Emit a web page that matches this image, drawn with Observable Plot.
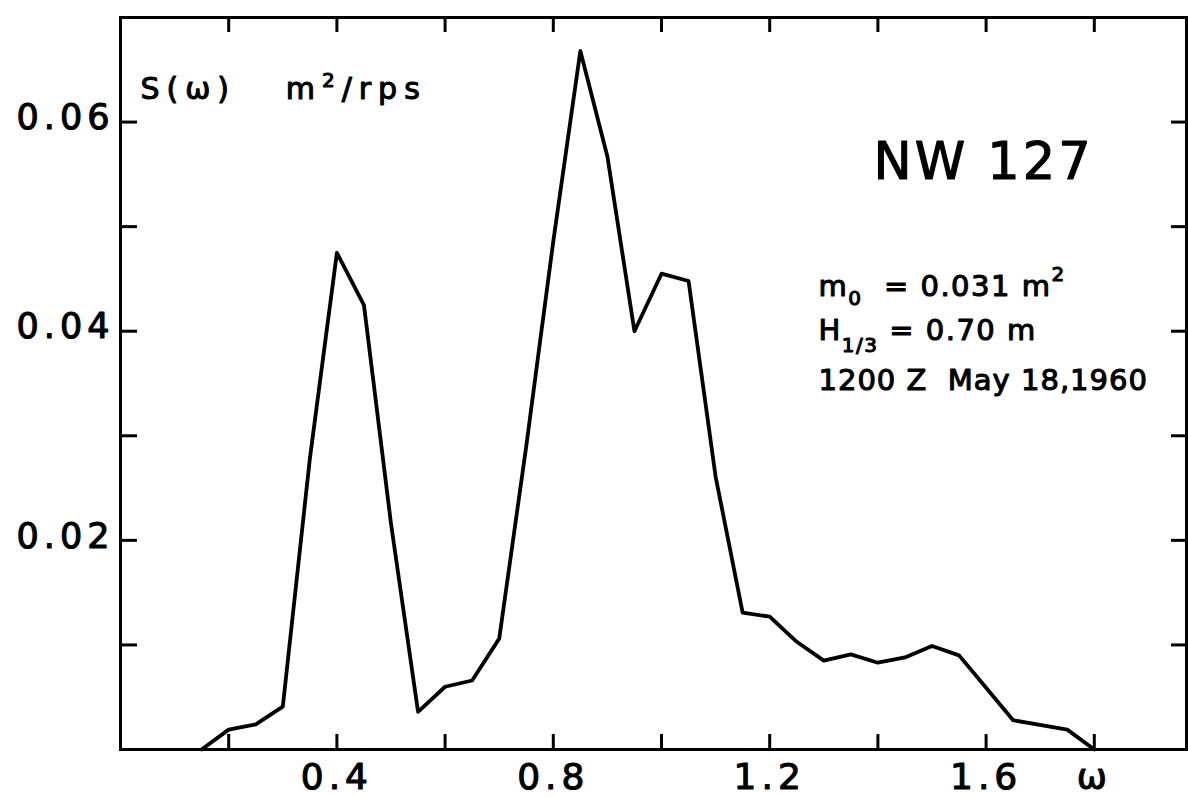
<!DOCTYPE html>
<html>
<head>
<meta charset="utf-8">
<script src="https://cdn.jsdelivr.net/npm/d3@7"></script>
<script src="https://cdn.jsdelivr.net/npm/@observablehq/plot@0.6"></script>
<style>
  html, body { margin: 0; padding: 0; background: #fff; }
  #chart svg { display: block; }
  #chart svg text { stroke: #000; stroke-width: 1.1px; stroke-linejoin: round; }
</style>
</head>
<body>
<div id="chart"></div>
<script>
// ---- data ----
const omega = [0.15, 0.2, 0.25, 0.3, 0.35, 0.4, 0.45, 0.5, 0.55, 0.6, 0.65, 0.7, 0.75, 0.8, 0.85, 0.9, 0.95, 1.0, 1.05, 1.1, 1.15, 1.2, 1.25, 1.3, 1.35, 1.4, 1.45, 1.5, 1.55, 1.6, 1.65, 1.75, 1.8];
const spectrum = [0, 0.0019, 0.0024, 0.0041, 0.0278, 0.0475, 0.0425, 0.0216, 0.0036, 0.0060, 0.0066, 0.0106, 0.029, 0.0486, 0.0668, 0.0567, 0.0400, 0.0455, 0.0448, 0.0261, 0.0131, 0.0127, 0.0103, 0.0085, 0.0091, 0.0083, 0.0088, 0.0099, 0.0090, 0.0059, 0.0028, 0.0019, 0];

const xTickValues = [0.2, 0.4, 0.6, 0.8, 1.0, 1.2, 1.4, 1.6, 1.8];
const xLabelValues = [0.4, 0.8, 1.2, 1.6, 1.8];
const xLabelText = ["0.4", "0.8", "1.2", "1.6", "ω"];
const yTickValues = [0.01, 0.02, 0.03, 0.04, 0.05, 0.06];
const yLabelValues = [0.02, 0.04, 0.06];
const yLabelText = ["0.02", "0.04", "0.06"];

const titleText = "NW 127";
const unitParts = [["S(ω)   m", ""], ["2", "sup"], ["/rps", ""]];
const m0Parts = [["m", ""], ["0", "sub"], ["  = 0.031 m", ""], ["2", "sup"]];
const hParts = [["H", ""], ["1/3", "sub"], [" = 0.70 m", ""]];
const dateText = "1200 Z  May 18,1960";

// ---- layout ----
const W = 1188, H = 797;
const mL = 120, mR = 2, mT = 17, mB = 48;
const iw = W - mL - mR, ih = H - mT - mB;
const pxPerUnit = 541;

const rows = omega.map((w, i) => ({w, s: spectrum[i]}));
const joinParts = p => p.map(d => d[0]).join("");

const plot = Plot.plot({
  width: W, height: H,
  marginLeft: mL, marginRight: mR, marginTop: mT, marginBottom: mB,
  x: {domain: [0, iw / pxPerUnit]},
  y: {domain: [0, 0.07]},
  style: {fontFamily: "'DejaVu Sans', sans-serif", color: "#000", background: "#fff"},
  marks: [
    Plot.tickX(xTickValues, {x: d => d, insetTop: ih - 15, stroke: "#000", strokeWidth: 3}),
    Plot.tickX(xTickValues, {x: d => d, insetBottom: ih - 15, stroke: "#000", strokeWidth: 3}),
    Plot.tickY(yTickValues, {y: d => d, insetRight: iw - 17, stroke: "#000", strokeWidth: 3}),
    Plot.tickY(yTickValues, {y: d => d, insetLeft: iw - 15, stroke: "#000", strokeWidth: 3}),
    Plot.frame({stroke: "#000", strokeWidth: 3}),
    Plot.line(rows, {x: "w", y: "s", stroke: "#000", strokeWidth: 3.8}),
    Plot.axisX(xLabelValues, {tickSize: 0, tickPadding: 14, fontSize: 36, label: null,
      tickFormat: d => xLabelText[xLabelValues.indexOf(d)]}),
    Plot.axisY(yLabelValues, {tickSize: 0, tickPadding: 6, fontSize: 35, label: null, dy: -4,
      tickFormat: d => yLabelText[yLabelValues.indexOf(d)]}),
    Plot.text([joinParts(unitParts)], {frameAnchor: "top-left", dx: 20, dy: 60, lineAnchor: "top", textAnchor: "start", fontSize: 30}),
    Plot.text([titleText], {frameAnchor: "top-left", dx: 753, dy: 125, lineAnchor: "top", textAnchor: "start", fontSize: 51}),
    Plot.text([joinParts(m0Parts)], {frameAnchor: "top-left", dx: 698, dy: 258, lineAnchor: "top", textAnchor: "start", fontSize: 29}),
    Plot.text([joinParts(hParts)], {frameAnchor: "top-left", dx: 698, dy: 302, lineAnchor: "top", textAnchor: "start", fontSize: 29}),
    Plot.text([dateText], {frameAnchor: "top-left", dx: 698, dy: 352, lineAnchor: "top", textAnchor: "start", fontSize: 29})
  ]
});

document.getElementById("chart").appendChild(plot);

// ---- text styling: letter spacing and sub/superscripts ----
function findText(str) {
  return Array.from(plot.querySelectorAll("text")).find(t => t.textContent === str);
}
function richify(parts, opts) {
  const el = findText(joinParts(parts));
  if (!el) return;
  const sel = d3.select(el);
  sel.text(null);
  let shift = 0;
  for (const [t, k] of parts) {
    const ts = sel.append("tspan").text(t);
    const target = k === "sup" ? -opts.sup : k === "sub" ? opts.sub : 0;
    ts.attr("dy", target - shift);
    shift = target;
    if (k) ts.attr("font-size", opts.small);
  }
  if (opts.spacing != null) sel.attr("letter-spacing", opts.spacing);
}
d3.select(plot).selectAll('g[aria-label="x-axis tick label"] text').attr("letter-spacing", 5);
d3.select(plot).selectAll('g[aria-label="y-axis tick label"] text').attr("letter-spacing", 5);
const t = findText(titleText); if (t) t.setAttribute("letter-spacing", 3);
const dt = findText(dateText); if (dt) dt.setAttribute("letter-spacing", 1);
richify(unitParts, {sup: 12, sub: 0, small: 20, spacing: 7});
richify(m0Parts, {sup: 15, sub: 9, small: 20, spacing: 1.5});
richify(hParts, {sup: 0, sub: 12, small: 20, spacing: 1.5});
</script>
</body>
</html>
